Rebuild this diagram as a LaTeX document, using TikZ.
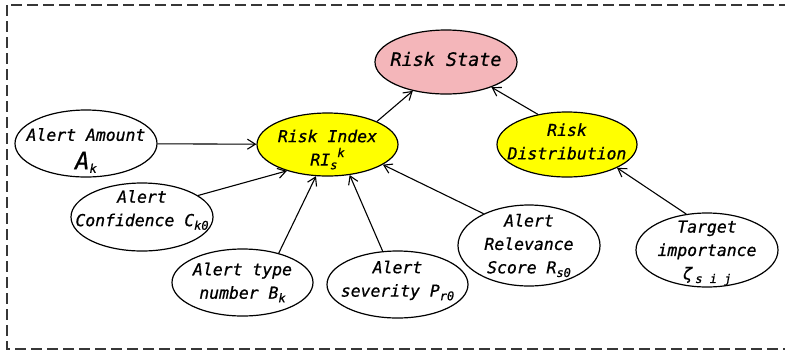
\documentclass[tikz,border=0pt]{standalone}
\usepackage{fontspec}
\setmainfont{DejaVu Sans Mono}[ItalicFont=DejaVu Sans Mono Oblique, ItalicFeatures={FakeBold=0.8}]
\usetikzlibrary{shapes.geometric,arrows.meta}
\definecolor{statepink}{RGB}{244,182,186}
\definecolor{idxyellow}{RGB}{255,255,0}
\definecolor{framegray}{RGB}{55,55,55}
% small lowered / raised indices
\newcommand\dn[1]{\raisebox{-0.4ex}{\fontsize{12}{12}\selectfont #1}}
\newcommand\upr[1]{\raisebox{0.95ex}{\fontsize{12}{12}\selectfont #1}}

\begin{document}
\begin{tikzpicture}[x=1bp,y=-1bp,
  bub/.style={ellipse, draw=black, line width=1.2bp, inner sep=0pt, fill=white},
  txt/.style={font=\fontsize{16.5}{23.5}\selectfont\itshape, align=center, inner sep=0pt},
  bigtxt/.style={txt, font=\fontsize{18.5}{23.5}\selectfont\itshape},
  link/.style={-{Straight Barb[length=8bp,width=10bp]}, line width=1.1bp, draw=black}]
\useasboundingbox (0,0) rectangle (785,353);

% dashed frame, open on the right
\draw[framegray, line width=2bp, dash pattern=on 11bp off 5bp]
  (790,4.5) -- (6.5,4.5) -- (6.5,348.5) -- (790,348.5);

% nodes
\node[bub, fill=statepink, minimum width=142bp, minimum height=64bp,
      label={[bigtxt,yshift=3bp]center:Risk State}] (rs) at (446,62) {};
\node[bub, fill=idxyellow, minimum width=141bp, minimum height=63bp,
      label={[txt,yshift=-5bp]center:{Risk Index\\RI\dn{s}\upr{k}}}] (ri) at (327.5,144.5) {};
\node[bub, fill=idxyellow, minimum width=140bp, minimum height=65bp,
      label={[txt,yshift=3bp]center:{Risk\\Distribution}}] (rd) at (567,144.5) {};
\node[bub, minimum width=142bp, minimum height=67bp,
      label={[txt,yshift=-7bp]center:{Alert Amount\\[5bp]{\fontsize{24}{24}\selectfont A}\dn{k}}}] (amt) at (86,143.5) {};
\node[bub, minimum width=142bp, minimum height=68bp,
      label={[txt,yshift=7bp]center:{Alert\\Confidence C\dn{k0}}}] (conf) at (142,217) {};
\node[bub, minimum width=141bp, minimum height=67bp,
      label={[txt]center:{Alert type\\number B\dn{k}}}] (typ) at (242.5,282.5) {};
\node[bub, minimum width=141bp, minimum height=67bp,
      label={[txt,yshift=4bp]center:{Alert\\severity P\dn{r0}}}] (sev) at (397.5,284.5) {};
\node[bub, minimum width=142bp, minimum height=81bp,
      label={[txt]center:{Alert\\Relevance\\Score R\dn{s0}}}] (rel) at (529,245.5) {};
\node[bub, minimum width=142bp, minimum height=74bp,
      label={[txt,yshift=-3bp]center:{Target\\importance\\ζ\,\dn{s i j}}}] (tgt) at (707,250) {};

% connectors
\draw[link] (amt) -- (ri);
\draw[link] (conf.21) -- (ri.213);
\draw[link] (typ.39) -- (ri.250);
\draw[link] (sev.114) -- (ri.306);
\draw[link] (rel.145) -- (ri.340);
\draw[link] (ri.25) -- (rs.221);
\draw[link] (rd.134) -- (rs.331);
\draw[link] (tgt.120) -- (rd.335);
\end{tikzpicture}
\end{document}
